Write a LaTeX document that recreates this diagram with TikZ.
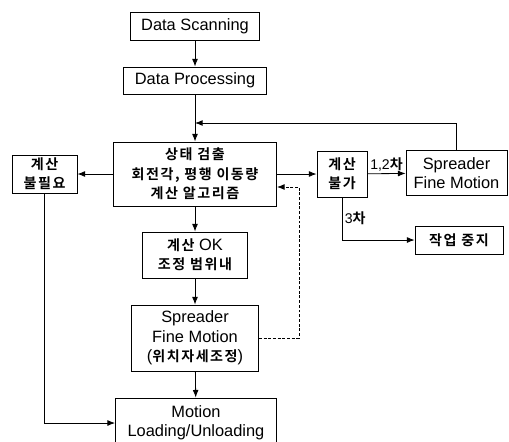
\documentclass[tikz,border=0pt]{standalone}
\usepackage{fontspec}
\setmainfont{Liberation Sans}
\newfontfamily\kr{Noto Sans CJK KR}[UprightFont=* Bold, LetterSpace=11]
\newcommand{\hgl}[1]{{\kr\fontsize{12}{16.5}\selectfont #1}}
\usetikzlibrary{arrows.meta}
\begin{document}
\begin{tikzpicture}[x=0.03cm, y=-0.03cm, >={Latex[length=6.5pt,width=5pt]}, line width=0.7pt,
    box/.style={draw, align=center, inner sep=1pt, font=\fontsize{14}{16.5}\selectfont}]
    \useasboundingbox (0,0) rectangle (509,441);
    \clip (0,0) rectangle (509,441);

    % 1. Các khối chính
    \node[box, minimum width=3.87cm, minimum height=0.84cm] (scan) at (195,26) {Data Scanning};
    \node[box, minimum width=4.29cm, minimum height=0.81cm] (proc) at (195,80.5) {Data Processing};
    \node[box, minimum width=4.89cm, minimum height=1.92cm] (main) at (195,174)
        {\hgl{상태 검출}\\ \hgl{회전각, 평행 이동량}\\ \hgl{계산 알고리즘}};
    \node[box, minimum width=1.95cm, minimum height=1.14cm] (nocalc) at (44.5,174) {\hgl{계산}\\ \hgl{불필요}};
    \node[box, minimum width=1.5cm, minimum height=1.38cm] (fail) at (342,174) {\hgl{계산}\\ \hgl{불가}};
    \node[box, minimum width=3.03cm, minimum height=1.35cm] (fine2) at (456.5,173) {Spreader\\ Fine Motion};
    \node[box, minimum width=2.64cm, minimum height=0.84cm] (stop) at (459,240) {\hgl{작업 중지}};
    \node[box, minimum width=3.15cm, minimum height=1.38cm] (ok) at (195,255) {\hgl{계산} OK\\ \hgl{조정 범위내}};
    \node[box, minimum width=3.81cm, minimum height=1.98cm] (fine1) at (195,338)
        {Spreader\\ Fine Motion\\ (\hgl{위치자세조정})};
    \node[box, minimum width=4.83cm, minimum height=1.5cm] (motion) at (196,423) {Motion\\ Loading/Unloading};

    % 2. Điểm phụ
    \coordinate (back) at (195,123);
    \coordinate (dturn) at (299,187);

    % 3. Mũi tên
    \draw[->] (scan) -- (proc);
    \draw[->] (proc) -- (main);
    \draw[->] (fine2.north) |- (back);
    \draw[->] (main) -- (nocalc);
    \draw[->] (main) -- (fail);
    \draw[->] (fail) -- node[above, inner sep=2pt, font=\fontsize{12}{14}\selectfont] {1,2\hgl{차}} (fine2);
    \draw[->] (fail.south) |- node[pos=0.24, right, inner sep=2pt, font=\fontsize{12}{14}\selectfont] {3\hgl{차}} (stop.west);
    \draw[->] (main) -- (ok);
    \draw[->] (ok) -- (fine1);
    \draw[->] (fine1) -- (motion);
    \draw[->] (nocalc.south) |- (motion.west);
    \draw[->, dash pattern=on 2.5pt off 1.5pt] (fine1.east) -| (dturn) -- (main.east |- dturn);
\end{tikzpicture}
\end{document}
